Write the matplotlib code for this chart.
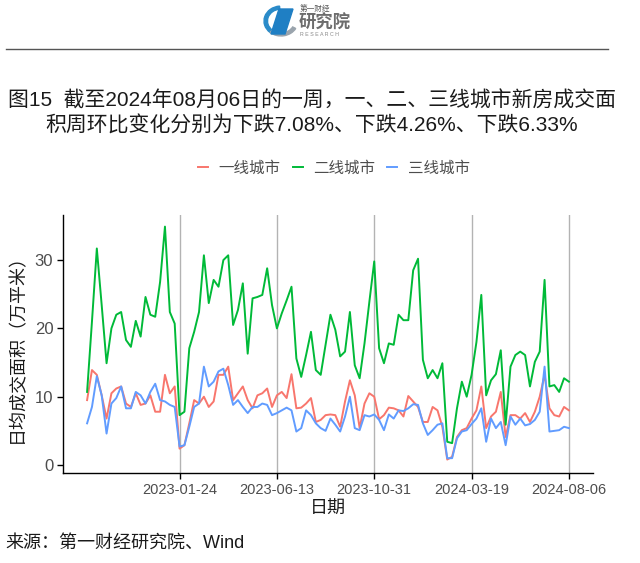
import numpy as np
import pandas as pd
import matplotlib
matplotlib.use('Agg')
import matplotlib.pyplot as plt
import matplotlib.dates as mdates
from matplotlib.patches import Circle, Polygon, Wedge
from matplotlib.lines import Line2D

plt.rcParams['font.family'] = ['Liberation Sans', 'Noto Sans CJK SC', 'DejaVu Sans']

# 周度数据
start_date = '2022-09-13'
tier1 = [9.5, 13.9, 13.2, 10.2, 6.8, 10.5, 11.2, 11.5, 9.0, 8.5, 10.5, 8.8, 9.0, 10.2, 7.8, 7.8, 13.2, 10.5, 11.5, 2.4,
         2.9, 6.1, 9.5, 9.0, 10.0, 8.5, 9.3, 13.2, 13.2, 14.4, 9.5, 10.5, 11.5, 9.5, 8.3, 10.2, 10.5, 11.2, 8.5, 10.2,
         10.7, 9.8, 13.3, 8.3, 8.4, 9.0, 9.8, 6.3, 6.6, 7.3, 7.4, 7.3, 5.6, 9.3, 12.4, 10.2, 5.4, 9.0, 10.5, 10.0,
         6.7, 7.3, 8.4, 8.3, 8.0, 7.1, 10.1, 9.3, 8.5, 6.3, 6.3, 8.5, 8.0, 5.6, 0.8, 1.2, 4.1, 5.1, 5.4, 6.8,
         8.0, 11.5, 5.4, 7.1, 7.8, 10.7, 4.1, 7.3, 7.3, 6.8, 7.6, 6.3, 7.8, 10.0, 13.2, 8.3, 7.3, 7.1, 8.5, 8.0]
tier2 = [10.7, 21.0, 31.7, 23.4, 14.9, 20.0, 22.0, 22.4, 18.3, 17.3, 21.1, 18.8, 24.6, 22.0, 21.7, 26.8, 34.9, 22.4, 20.7, 7.3,
         7.8, 17.1, 19.5, 22.4, 30.7, 23.7, 27.1, 26.1, 30.0, 30.7, 20.5, 22.7, 26.6, 16.3, 24.4, 24.6, 24.9, 28.8, 23.4, 20.0,
         22.2, 24.1, 26.1, 15.6, 12.9, 16.1, 19.5, 13.9, 13.2, 17.6, 22.0, 19.8, 15.9, 16.6, 22.4, 14.6, 12.7, 17.8, 23.9, 29.8,
         17.1, 14.9, 17.8, 17.6, 22.0, 21.2, 21.2, 28.5, 30.2, 15.4, 12.7, 13.9, 12.7, 14.9, 3.4, 3.2, 8.3, 12.2, 10.0, 13.2,
         18.0, 24.9, 10.2, 12.4, 13.3, 16.8, 5.9, 14.4, 16.1, 16.6, 16.1, 11.5, 15.1, 16.6, 27.1, 11.5, 11.7, 10.7, 12.7, 12.2]
tier3 = [6.1, 8.5, 13.0, 10.2, 4.6, 9.0, 9.8, 11.5, 8.3, 8.3, 10.7, 10.2, 9.0, 10.7, 11.9, 9.5, 9.3, 8.8, 8.5, 2.7,
         2.9, 5.6, 8.5, 9.0, 14.4, 11.5, 12.2, 13.7, 14.1, 11.7, 8.8, 9.5, 8.5, 7.6, 8.5, 8.5, 9.0, 8.8, 7.3, 7.6,
         8.0, 8.4, 8.0, 4.9, 5.4, 8.0, 7.3, 6.1, 5.4, 5.0, 6.8, 5.9, 4.9, 7.1, 10.0, 5.4, 5.1, 7.3, 7.1, 7.4,
         6.6, 5.1, 7.4, 6.8, 8.0, 7.9, 8.3, 8.9, 8.8, 6.1, 4.4, 5.1, 5.9, 6.1, 1.0, 1.0, 3.9, 4.9, 5.1, 6.0,
         6.8, 8.3, 3.4, 6.8, 5.4, 6.3, 2.9, 7.1, 5.9, 6.8, 5.8, 6.0, 6.6, 7.8, 14.4, 4.9, 5.0, 5.1, 5.6, 5.4]
series_names = ['一线城市', '二线城市', '三线城市']
colors = ['#F8766D', '#00BA38', '#619CFF']
tick_dates = ['2023-01-24', '2023-06-13', '2023-10-31', '2024-03-19', '2024-08-06']

dates = pd.date_range(start_date, periods=len(tier1), freq='7D')

W, H = 640, 563
fig = plt.figure(figsize=(W / 100, H / 100), dpi=100)

def fx(x):
    return x / W

def fy(y):
    return 1 - y / H

# 页眉 logo
fig.patches.append(Wedge((fx(281), fy(21)), 17 / W, 95, 230, width=3.5 / W,
                         transform=fig.transFigure, color='#2a8bc9', figure=fig))
fig.patches.append(Wedge((fx(281), fy(21)), 17 / W, 230, 330, width=3.5 / W,
                         transform=fig.transFigure, color='#9aa4ad', figure=fig))
fig.patches.append(Polygon([(fx(271), fy(34)), (fx(279), fy(9)), (fx(293), fy(9)), (fx(285), fy(34))],
                           closed=True, transform=fig.transFigure, color='#1f7fc4', figure=fig))
fig.text(fx(300), fy(9), '第一财经', fontsize=5.5, color='#555555', va='center', ha='left')
fig.text(fx(299), fy(22), '研究院', fontsize=12.5, color='#6d6d6d', va='center', ha='left',
         fontweight='bold')
fig.text(fx(300), fy(34), 'R E S E A R C H', fontsize=3.8, color='#888888', va='center', ha='left')
fig.add_artist(Line2D([fx(6), fx(608)], [fy(49), fy(49)], transform=fig.transFigure,
                      color='#555555', lw=1))

# 标题
fig.text(fx(312), fy(100), '图15  截至2024年08月06日的一周，一、二、三线城市新房成交面',
         fontsize=15, ha='center', va='center', color='#1a1a1a')
fig.text(fx(312), fy(126), '积周环比变化分别为下跌7.08%、下跌4.26%、下跌6.33%',
         fontsize=15, ha='center', va='center', color='#1a1a1a')

ax = fig.add_axes([63 / W, 1 - 473 / H, (593 - 63) / W, (473 - 215) / H])

for vals, name, c in zip([tier1, tier2, tier3], series_names, colors):
    ax.plot(dates, vals, color=c, lw=1.4, label=name)

span = dates[-1] - dates[0]
ax.set_xlim(dates[0] - span * 0.05, dates[-1] + span * 0.05)
ax.set_ylim(-1.17, 36.6)
ax.set_yticks([0, 10, 20, 30])
ticks = pd.to_datetime(tick_dates)
ax.set_xticks(ticks)
ax.set_xticklabels(tick_dates)
ax.grid(axis='x', color='#b3b3b3', lw=1)
ax.set_axisbelow(True)
for s in ['top', 'right']:
    ax.spines[s].set_visible(False)
for s in ['left', 'bottom']:
    ax.spines[s].set_color('black')
    ax.spines[s].set_linewidth(1)
ax.tick_params(axis='x', labelsize=10.5, colors='#4d4d4d', length=4, width=1, pad=3)
ax.tick_params(axis='y', labelsize=12, colors='#4d4d4d', length=4, width=1, pad=3)
ax.tick_params(axis='both', color='black')
ax.set_xlabel('日期', fontsize=13, color='#1a1a1a', labelpad=3)
ax.set_ylabel('日均成交面积（万平米）', fontsize=13, color='#1a1a1a', labelpad=6)

fig.legend(loc='center', bbox_to_anchor=(fx(334), fy(168)), ncol=3, frameon=False,
           fontsize=11.2, handlelength=0.65, handletextpad=0.7, columnspacing=0.75,
           labelcolor='#4d4d4d')

fig.text(fx(5), fy(543), '来源：第一财经研究院、Wind', fontsize=13, ha='left', va='center', color='#1a1a1a')

fig.savefig('out.png', dpi=100)
